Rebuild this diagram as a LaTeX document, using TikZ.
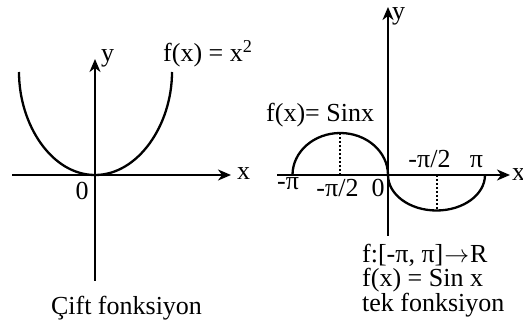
\documentclass[tikz,border=0pt]{standalone}
\usepackage{fontspec}
\setmainfont{Liberation Serif}
\usetikzlibrary{arrows.meta}
\begin{document}
\begin{tikzpicture}[x=1pt,y=-1pt,
  axis/.style={line width=1.8pt,-{Stealth[length=13pt,width=11pt,inset=4pt]}},
  curve/.style={line width=2.3pt},
  dot/.style={line width=2pt,dash pattern=on 2pt off 2pt},
  lbl/.style={inner sep=0pt,font=\fontsize{26}{29}\selectfont}]
\useasboundingbox (0,0) rectangle (523,326);
% left graph
\coordinate (lxa) at (12,175);
\coordinate (lxb) at (231,175);
\coordinate (lya) at (95,281);
\coordinate (lyb) at (95,59);
\coordinate (lv) at (95,175);
\coordinate (ll) at (19,72);
\coordinate (lr) at (172,72);
\draw[axis] (lxa) -- (lxb);
\draw[axis] (lya) -- (lyb);
\draw[curve] (ll) .. controls (19,125) and (52,175) .. (lv) .. controls (138,175) and (172,125) .. (lr);
\node[lbl,anchor=base west] (ly) at (101,62) {y};
\node[lbl,anchor=base west] (lf) at (163,62) {f(x) = x\textsuperscript{2}};
\node[lbl,anchor=base west] (lx) at (237,180) {x};
\node[lbl,anchor=base] (l0) at (82,200) {0};
\node[lbl,anchor=base] (lt) at (126.5,315) {Çift fonksiyon};
% right graph
\coordinate (rxa) at (277,175);
\coordinate (rxb) at (510,175);
\coordinate (rya) at (388,236);
\coordinate (ryb) at (388,7);
\coordinate (o) at (388,175);
\draw[axis] (rxa) -- (rxb);
\draw[axis] (rya) -- (ryb);
\draw[curve] (292.5,175) arc[start angle=180,end angle=0,x radius=47.75pt,y radius=42pt];
\draw[curve] (o) arc[start angle=180,end angle=360,x radius=48.5pt,y radius=35.5pt];
\coordinate (d1a) at (340,133);
\coordinate (d1b) at (340,175);
\coordinate (d2a) at (436.5,175);
\coordinate (d2b) at (436.5,210.5);
\draw[dot] (d1a) -- (d1b);
\draw[dot] (d2a) -- (d2b);
\node[lbl,anchor=base west] (ry) at (392,20) {y};
\node[lbl,anchor=base west] (rx) at (512,181) {x};
\node[lbl,anchor=base west] (rf) at (266,122) {f(x)= Sinx};
\node[lbl,anchor=base west] (rmp) at (277,190) {-π};
\node[lbl,anchor=base] (rmh) at (337.5,197) {-π/2};
\node[lbl,anchor=base] (r0) at (378,197) {0};
\node[lbl,anchor=base] (rph) at (429.5,168) {-π/2};
\node[lbl,anchor=base] (rp) at (476.5,168) {π};
\node[lbl,anchor=base west] (rt1) at (362,263) {f:[-π, π]\kern1pt$\rightarrow$\kern1ptR};
\node[lbl,anchor=base west] (rt2) at (362,287) {f(x) = Sin x};
\node[lbl,anchor=base west] (rt3) at (362,312) {tek fonksiyon};
\end{tikzpicture}
\end{document}
